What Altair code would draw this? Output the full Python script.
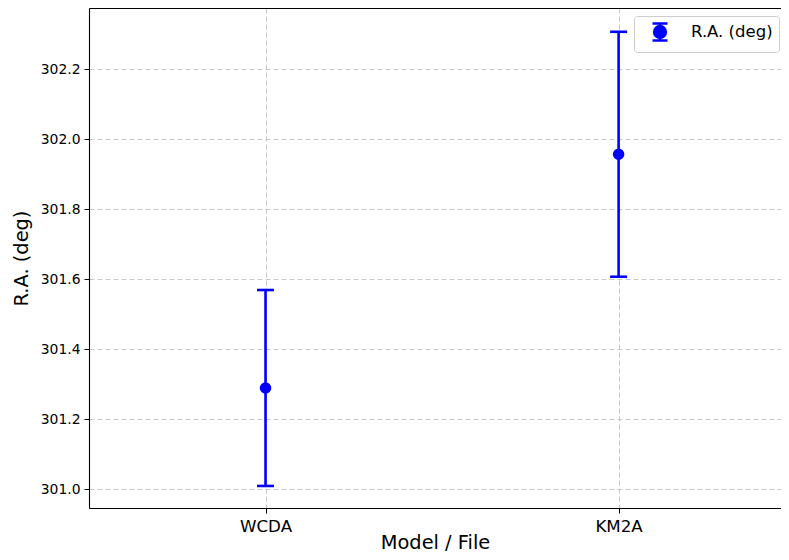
import altair as alt
import pandas as pd

categories = ["WCDA", "KM2A"]
values = [301.289, 301.957]
errors = [0.28, 0.35]
series_name = "R.A. (deg)"
y_ticks = [301.0, 301.2, 301.4, 301.6, 301.8, 302.0, 302.2]

df = pd.DataFrame({
    "cat": categories,
    "idx": list(range(len(categories))),
    "val": values,
    "err": errors,
})
df["lo"] = df["val"] - df["err"]
df["hi"] = df["val"] + df["err"]
df["series"] = series_name

label_expr = " : ".join(
    [f"datum.value == {i} ? '{c}'" for i, c in enumerate(categories)]
) + " : ''"

blue = "#0000ff"

x_scale = alt.Scale(domain=[-0.5, 1.46], nice=False, zero=False)
x_enc = alt.X(
    "idx:Q",
    scale=x_scale,
    axis=alt.Axis(values=list(range(len(categories))), labelExpr=label_expr,
                  title="Model / File", grid=True,
                  labelFontSize=16.7, labelPadding=5,
                  titleY=40, titleBaseline="alphabetic"),
)
x_plain = alt.X("idx:Q", scale=x_scale, axis=None)
y_scale = alt.Scale(domain=[300.946, 302.375], nice=False, zero=False)
y_axis = alt.Axis(values=y_ticks, format=".1f", title="R.A. (deg)", grid=True,
                  labelFontSize=13.9, labelPadding=4, titlePadding=9)

base = alt.Chart(df)

rule = base.mark_rule(color=blue, strokeWidth=2.6).encode(
    x=x_enc,
    y=alt.Y("lo:Q", scale=y_scale, axis=y_axis),
    y2="hi:Q",
)
cap_lo = base.mark_tick(color=blue, size=17, thickness=2.6, orient="horizontal", opacity=1).encode(
    x=x_plain, y=alt.Y("lo:Q", scale=y_scale)
)
cap_hi = base.mark_tick(color=blue, size=17, thickness=2.6, orient="horizontal", opacity=1).encode(
    x=x_plain, y=alt.Y("hi:Q", scale=y_scale)
)

# top frame line (a top axis showing only its domain line)
top_frame = base.mark_point(opacity=0).encode(
    x=alt.X("idx:Q", scale=x_scale,
            axis=alt.Axis(orient="top", labels=False, ticks=False, grid=False,
                          domain=True, title=None, values=[0])),
    y=alt.Y("val:Q", scale=y_scale),
)

legend_path = ("M-0.88,-1H0.88M0,-1V1M-0.88,1H0.88"
               "M0.7,0A0.7,0.7 0 1,1 -0.7,0A0.7,0.7 0 1,1 0.7,0Z")

points = base.mark_point(filled=True, size=135, opacity=1).encode(
    x=x_plain,
    y=alt.Y("val:Q", scale=y_scale),
    color=alt.Color(
        "series:N",
        scale=alt.Scale(domain=[series_name], range=[blue]),
        legend=alt.Legend(
            title=None, orient="none", legendX=545, legendY=8,
            symbolType=legend_path, symbolSize=289,
            symbolFillColor=blue, symbolStrokeColor=blue, symbolStrokeWidth=2.4,
            labelFontSize=16.5, labelFont="DejaVu Sans", labelColor="black",
            labelOffset=21, symbolOffset=10, padding=6,
            strokeColor="#cccccc", fillColor="white", cornerRadius=3,
        ),
    ),
)

chart = alt.layer(rule, cap_lo, cap_hi, points, top_frame).resolve_axis(
    x="independent"
).properties(
    width=692, height=500,
    autosize=alt.AutoSizeParams(type="none"),
    padding={"left": 81, "top": 0, "right": 0, "bottom": 44},
).configure_view(
    stroke="transparent", strokeWidth=0
).configure_axis(
    domain=True, domainColor="black", domainWidth=1.1,
    gridColor="#c8c8c8", gridDash=[5, 3], gridWidth=1,
    tickColor="black", tickSize=5, tickWidth=1,
    labelFont="DejaVu Sans", labelColor="black",
    titleFont="DejaVu Sans", titleFontSize=19.4, titleFontWeight="normal", titleColor="black",
)

chart.save("out.html", embed_options={"renderer": "svg", "actions": False})
